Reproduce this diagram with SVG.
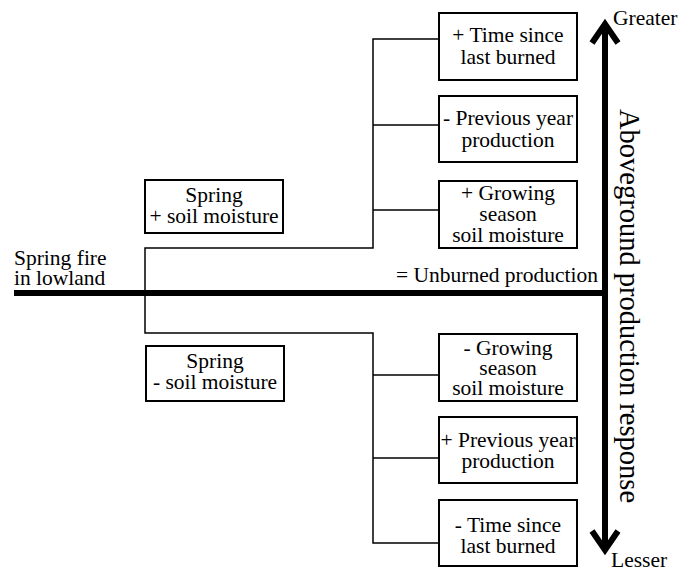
<svg xmlns="http://www.w3.org/2000/svg" width="682" height="571" viewBox="0 0 682 571" font-family="'Liberation Serif', 'Times New Roman', serif" font-size="21.5">
<style>
text{font-family:'Liberation Serif','Times New Roman',serif;font-size:21.5px;fill:#000}
.c{text-anchor:middle}
.box{fill:#fff;stroke:#000;stroke-width:2}
.con{fill:none;stroke:#000;stroke-width:1.5}
.thick{fill:none;stroke:#000;stroke-width:6}
</style>
<rect width="682" height="571" fill="#fff"/>
<g id="connectors">
<polyline class="con" points="438,39 373,39 373,248 145,248 145,333 373,333 373,543 438,543"/>
<line class="con" x1="373" y1="125" x2="438" y2="125"/>
<line class="con" x1="373" y1="210" x2="438" y2="210"/>
<line class="con" x1="373" y1="375" x2="438" y2="375"/>
<line class="con" x1="373" y1="458" x2="438" y2="458"/>
</g>
<g id="axis">
<line class="thick" x1="14" y1="293" x2="607" y2="293"/>
<line class="thick" x1="605" y1="24" x2="605" y2="550"/>
<polyline class="thick" points="592,43 605,24 618,43"/>
<polyline class="thick" points="592,531 605,550 618,531"/>
<text x="613" y="25">Greater</text>
<text x="611" y="567">Lesser</text>
<text class="c" transform="translate(620,306) rotate(90)" style="font-size:28.5px">Aboveground production response</text>
<text x="598" y="282" style="text-anchor:end">= Unburned production</text>
</g>
<g id="source">
<text x="14" y="265">Spring fire</text>
<text x="14" y="285">in lowland</text>
</g>
<g id="spring-plus">
<rect class="box" x="145" y="180" width="138" height="53"/>
<text class="c" x="214" y="202">Spring</text>
<text class="c" x="214" y="223">+ soil moisture</text>
</g>
<g id="spring-minus">
<rect class="box" x="146" y="346" width="138" height="55"/>
<text class="c" x="215" y="368">Spring</text>
<text class="c" x="215" y="389">- soil moisture</text>
</g>
<g id="time-plus">
<rect class="box" x="439" y="13" width="138" height="67"/>
<text class="c" x="508" y="42">+ Time since</text>
<text class="c" x="508" y="64">last burned</text>
</g>
<g id="prev-minus">
<rect class="box" x="439" y="96" width="138" height="66"/>
<text class="c" x="508" y="125">- Previous year</text>
<text class="c" x="508" y="147">production</text>
</g>
<g id="growing-plus">
<rect class="box" x="439" y="181" width="138" height="67"/>
<text class="c" x="508" y="200">+ Growing</text>
<text class="c" x="508" y="221">season</text>
<text class="c" x="508" y="242">soil moisture</text>
</g>
<g id="growing-minus">
<rect class="box" x="439" y="334" width="138" height="67"/>
<text class="c" x="508" y="355">- Growing</text>
<text class="c" x="508" y="375">season</text>
<text class="c" x="508" y="395">soil moisture</text>
</g>
<g id="prev-plus">
<rect class="box" x="439" y="417" width="138" height="66"/>
<text class="c" x="508" y="447">+ Previous year</text>
<text class="c" x="508" y="468">production</text>
</g>
<g id="time-minus">
<rect class="box" x="439" y="500" width="138" height="66"/>
<text class="c" x="508" y="532">- Time since</text>
<text class="c" x="508" y="553">last burned</text>
</g>
</svg>
